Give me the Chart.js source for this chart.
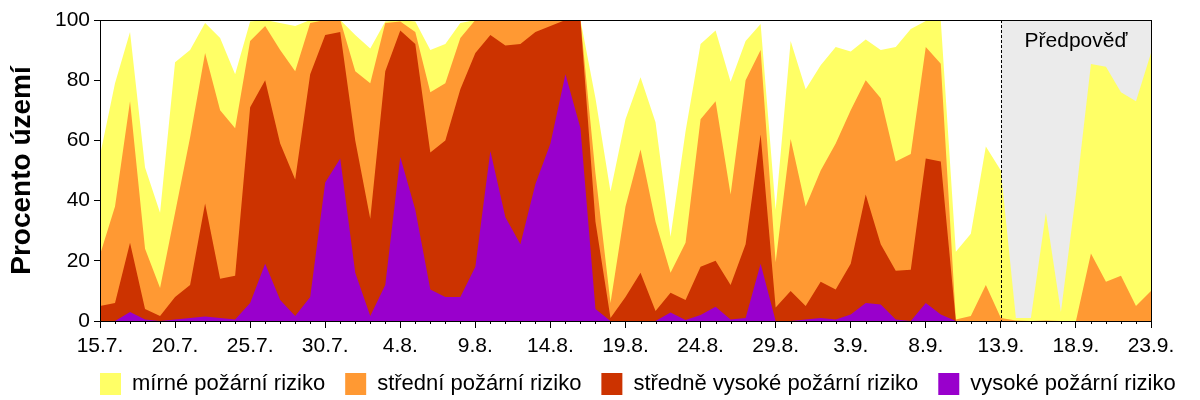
<!DOCTYPE html>
<html lang="cs">
<head>
<meta charset="utf-8">
<title>Požární riziko</title>
<script src="https://cdn.jsdelivr.net/npm/chart.js@4.4.1/dist/chart.umd.min.js"></script>
<style>
  html, body { margin: 0; padding: 0; background: #fff; }
  #wrap { width: 1200px; height: 400px; }
</style>
</head>
<body>
<div id="wrap"><canvas id="chart" width="1200" height="400"></canvas></div>
<script>
// Days 15.7. - 23.9.
const days = [
  "15.7.", "16.7.", "17.7.", "18.7.", "19.7.", "20.7.", "21.7.", "22.7.", "23.7.", "24.7.",
  "25.7.", "26.7.", "27.7.", "28.7.", "29.7.", "30.7.", "31.7.", "1.8.", "2.8.", "3.8.",
  "4.8.", "5.8.", "6.8.", "7.8.", "8.8.", "9.8.", "10.8.", "11.8.", "12.8.", "13.8.",
  "14.8.", "15.8.", "16.8.", "17.8.", "18.8.", "19.8.", "20.8.", "21.8.", "22.8.", "23.8.",
  "24.8.", "25.8.", "26.8.", "27.8.", "28.8.", "29.8.", "30.8.", "31.8.", "1.9.", "2.9.",
  "3.9.", "4.9.", "5.9.", "6.9.", "7.9.", "8.9.", "9.9.", "10.9.", "11.9.", "12.9.",
  "13.9.", "14.9.", "15.9.", "16.9.", "17.9.", "18.9.", "19.9.", "20.9.", "21.9.", "22.9.",
  "23.9."
];

// share of territory (%) per risk level, stacked bottom-up
const vysoke = [
  0, 0, 3, 0.5, 0, 0.5, 1, 1.5, 1, 0.5,
  6, 19, 7, 1.7, 8, 46, 54, 16, 1.7, 12,
  54.5, 37, 10.5, 8, 8, 18, 56.5, 34.5, 25.5, 45.5,
  59, 82, 64, 4, 0, 0, 0, 0, 2.8, 0.3,
  2, 4.7, 0.5, 1, 19, 0, 0, 0.5, 1, 0.5,
  2.2, 6, 5.5, 0.5, 0, 6, 2.2, 0, 0, 0,
  0, 0, 0, 0, 0, 0, 0, 0, 0, 0, 0
];
const stredneVysoke = [
  5, 6, 23, 3.5, 1.7, 7.5, 11, 37.5, 13, 14.5,
  65, 61, 52, 45.3, 74, 49, 42, 44, 32.3, 71,
  42, 55, 45.5, 52, 69, 71, 38.5, 57, 66.5, 50.5,
  39, 18, 36, 29, 1, 8, 16, 3.3, 6.6, 6.7,
  16, 15.3, 11.5, 24.5, 43, 4.5, 10, 4.5, 12, 10,
  16.8, 36, 20, 16.2, 17, 48, 50.8, 0, 0, 0,
  0, 0, 0, 0, 0, 0, 0, 0, 0, 0, 0
];
const stredni = [
  17, 32, 47, 20, 9.3, 28, 49, 50, 56, 49,
  22, 18, 31, 36, 17, 5, 4, 23, 45, 16,
  3, 4, 20, 19, 17, 11, 5, 8.5, 8, 4,
  2, 0, 0, 16, 5, 30, 41, 29.7, 6.6, 19,
  49, 53, 30, 54.5, 28, 15, 50.5, 33, 37, 48.5,
  51, 38, 48.5, 36.3, 38.5, 37, 32.5, 0.5, 1.7, 12,
  1, 0.2, 0, 0.2, 0, 0, 22.4, 13, 15, 5, 10
];
const mirne = [
  33, 41, 23, 27, 25, 50, 29, 10, 24, 18,
  6.5, 2, 9, 15, 1, 0, 0, 12, 11.5, 0.5,
  0.5, 3.5, 14, 13, 5, 0, 0, 0, 0, 0,
  0, 0, 0, 25, 37, 29, 24, 33, 12, 37,
  25, 23.5, 37.5, 13, 8.7, 17.5, 32.5, 39, 35, 32,
  19.5, 13.5, 16, 38, 41.5, 8.7, 14.2, 22.5, 27.3, 46,
  49, 0.8, 1, 35.8, 3, 42, 63, 71.5, 61, 68, 79
];

const seriesNames = ["vysoké požární riziko", "středně vysoké požární riziko", "střední požární riziko", "mírné požární riziko"];
const seriesColors = ["#9900CC", "#CC3300", "#FF9933", "#FFFF66"];
const yTicks = [0, 20, 40, 60, 80, 100];
const forecastFrom = "13.9.";
const forecastText = "Předpověď";

const FONT = "'Liberation Sans', Arial, sans-serif";
const LEGEND_PAD = 20;

// grey forecast band + label under the areas
const forecastBand = {
  id: "forecastBand",
  beforeDatasetsDraw(chart) {
    const { ctx, chartArea: a, scales: { x } } = chart;
    const x0 = x.getPixelForValue(days.indexOf(forecastFrom));
    ctx.save();
    ctx.fillStyle = "#EBEBEB";
    ctx.fillRect(x0, a.top, a.right - x0, a.bottom - a.top);
    ctx.fillStyle = "#000";
    ctx.font = "21px " + FONT;
    ctx.textAlign = "center";
    ctx.textBaseline = "middle";
    ctx.fillText(forecastText, (x0 + a.right) / 2, a.top + 21);
    ctx.restore();
  },
  afterDatasetsDraw(chart) {
    const { ctx, chartArea: a, scales: { x } } = chart;
    const x0 = Math.round(x.getPixelForValue(days.indexOf(forecastFrom))) + 0.5;
    ctx.save();
    ctx.strokeStyle = "#000";
    ctx.lineWidth = 1;
    ctx.setLineDash([3, 2]);
    ctx.beginPath();
    ctx.moveTo(x0, a.top);
    ctx.lineTo(x0, a.bottom);
    ctx.stroke();
    ctx.restore();
  }
};

// frame around the plot and short daily ticks
const frame = {
  id: "frame",
  afterDraw(chart) {
    const { ctx, chartArea: a, scales: { x } } = chart;
    ctx.save();
    ctx.strokeStyle = "#000";
    ctx.lineWidth = 1;
    ctx.strokeRect(Math.round(a.left) + 0.5, Math.round(a.top) + 0.5,
      Math.round(a.right - a.left), Math.round(a.bottom - a.top));
    ctx.beginPath();
    days.forEach((d, i) => {
      if (i % 5 === 0) return;
      const px = Math.round(x.getPixelForValue(i)) + 0.5;
      ctx.moveTo(px, a.bottom);
      ctx.lineTo(px, a.bottom + 3);
    });
    ctx.stroke();
    ctx.restore();
  }
};

// legend starts at the plot's left edge
const legendPlace = {
  id: "legendPlace",
  afterLayout(chart) {
    const lg = chart.legend;
    const dx = chart.chartArea.left - LEGEND_PAD - lg.left;
    lg.left += dx;
    lg.right += dx;
    lg.top -= 4;
    lg.bottom -= 4;
  }
};

const datasets = [vysoke, stredneVysoke, stredni, mirne].map((vals, i) => ({
  label: seriesNames[i],
  data: vals,
  backgroundColor: seriesColors[i],
  borderColor: seriesColors[i],
  borderWidth: 0,
  pointRadius: 0,
  tension: 0,
  fill: "origin"
}));

new Chart(document.getElementById("chart"), {
  type: "line",
  data: { labels: days, datasets },
  plugins: [forecastBand, frame, legendPlace],
  options: {
    responsive: false,
    animation: false,
    devicePixelRatio: 1,
    layout: { padding: { top: 20, right: 49, bottom: -9, left: 0 } },
    plugins: {
      tooltip: { enabled: false },
      legend: {
        position: "bottom",
        align: "start",
        reverse: true,
        labels: {
          color: "#000",
          font: { family: FONT, size: 22 },
          boxWidth: 21,
          boxHeight: 22,
          padding: LEGEND_PAD
        }
      }
    },
    scales: {
      x: {
        stacked: true,
        offset: false,
        grid: {
          drawOnChartArea: false,
          tickLength: 7,
          tickColor: (c) => (c.index % 5 === 0 ? "#000" : "rgba(0,0,0,0)")
        },
        border: { color: "#000" },
        ticks: {
          autoSkip: false,
          maxRotation: 0,
          padding: 6,
          color: "#000",
          font: { family: FONT, size: 21 },
          callback: (v, i) => (i % 5 === 0 ? days[i] : "")
        },
        afterFit: (s) => { s.height = 36; }
      },
      y: {
        stacked: true,
        min: 0,
        max: 100,
        afterBuildTicks: (s) => { s.ticks = yTicks.map((v) => ({ value: v })); },
        grid: { drawOnChartArea: false, tickLength: 6, color: "#000" },
        border: { color: "#000" },
        ticks: {
          padding: 4,
          color: "#000",
          font: { family: FONT, size: 21 }
        },
        title: {
          display: true,
          text: "Procento území",
          color: "#000",
          font: { family: FONT, size: 28, weight: "bold" },
          padding: { top: 5, bottom: 0 }
        },
        afterFit: (s) => { s.width = 100; }
      }
    }
  }
});
</script>
</body>
</html>
